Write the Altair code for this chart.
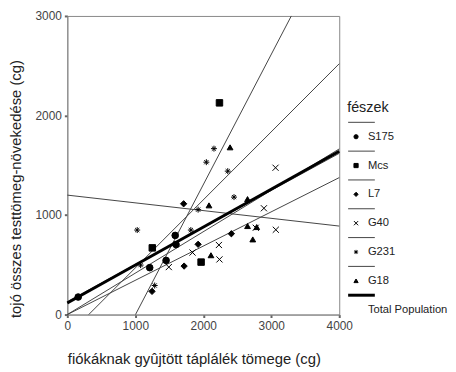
import altair as alt
import pandas as pd

FONT = "Liberation Sans"

groups = ["S175", "Mcs", "L7", "G40", "G231", "G18"]

# scatter values (x = food mass, y = egg mass gain)
s175_x = [160, 1212, 1587, 1599, 1453]
s175_y = [176, 471, 795, 703, 544]
mcs_x = [1250, 1968, 2238]
mcs_y = [670, 527, 2127]
l7_x = [1711, 2413, 1718, 1246, 1924]
l7_y = [1113, 812, 487, 233, 706]
g40_x = [3063, 2892, 3067, 2772, 2230, 2238, 1842, 1493]
g40_y = [1475, 1068, 852, 872, 699, 554, 623, 477]
g231_x = [2157, 2045, 2360, 2452, 1924, 1028, 1817, 1285, 1078]
g231_y = [1667, 1531, 1441, 1180, 1054, 849, 849, 292, 497]
g18_x = [2394, 2651, 2084, 2651, 2786, 2728, 2113]
g18_y = [1680, 1160, 1097, 889, 879, 755, 596]

# fitted lines, read as end points
line_x0 = [0, 1003, 0, 0, 315, 0]
line_y0 = [130, 0, 0, 0, 0, 1200]
line_x1 = [4000, 3295, 4000, 4000, 4000, 4000]
line_y1 = [1620, 3000, 1664, 1376, 2520, 889]
total_x = [0, 4000]
total_y = [116, 1640]

x_ticks = [0, 1000, 2000, 3000, 4000]
y_ticks = [0, 1000, 2000, 3000]

legend_title = "fészek"
total_label = "Total Population"

shape_range = [
    "circle",
    "square",
    "diamond",
    "M-1,-1L1,1M-1,1L1,-1",
    "M-1,0L1,0M0,-1L0,1M-0.7,-0.7L0.7,0.7M-0.7,0.7L0.7,-0.7",
    "triangle-up",
]
size_range = [45, 34, 45, 30, 36, 30]

# ---- tables ----
pts = []
for g, xs, ys in zip(groups, [s175_x, mcs_x, l7_x, g40_x, g231_x, g18_x],
                     [s175_y, mcs_y, l7_y, g40_y, g231_y, g18_y]):
    for a, b in zip(xs, ys):
        pts.append({"group": g, "x": a, "y": b})
pts = pd.DataFrame(pts)

lines = []
for g, a0, b0, a1, b1 in zip(groups, line_x0, line_y0, line_x1, line_y1):
    lines.append({"group": g, "x": a0, "y": b0, "o": 0})
    lines.append({"group": g, "x": a1, "y": b1, "o": 1})
lines = pd.DataFrame(lines)
total = pd.DataFrame({"x": total_x, "y": total_y})

rows = ["title"]
leg = [{"row": "title", "kind": "title", "label": legend_title, "group": ""}]
for i, g in enumerate(groups):
    rows += ["sep%d" % i, g]
    leg.append({"row": "sep%d" % i, "kind": "sep", "label": "", "group": ""})
    leg.append({"row": g, "kind": "item", "label": g, "group": g})
rows += ["sepT", "total"]
leg.append({"row": "sepT", "kind": "thick", "label": "", "group": ""})
leg.append({"row": "total", "kind": "total", "label": total_label, "group": ""})
leg = pd.DataFrame(leg)

W, H = 275, 302
xs = alt.Scale(domain=[0, 4000], nice=False, zero=False)
ys = alt.Scale(domain=[0, 3000], nice=False, zero=False)
shape_scale = alt.Scale(domain=groups, range=shape_range)
size_scale = alt.Scale(domain=groups, range=size_range)

X = alt.X("x:Q", scale=xs, axis=alt.Axis(
    values=x_ticks, format="d", labelFlush=False,
    title="fiókáknak gyûjtött táplálék tömege (cg)", titleAnchor="start",
    titleFontSize=15, titlePadding=20))
Y = alt.Y("y:Q", scale=ys, axis=alt.Axis(
    values=y_ticks, format="d", labelFlush=False,
    title="tojó összes testtömeg-növekedése (cg)",
    titleY=305, titleAlign="left", titleFontSize=15, titlePadding=12))

group_lines = alt.Chart(lines).mark_line(color="#444", strokeWidth=1).encode(
    x=X, y=Y, detail="group:N", order="o:Q")
total_line = alt.Chart(total).mark_line(color="black", strokeWidth=3).encode(x=X, y=Y)
points = alt.Chart(pts).mark_point(fill="black", stroke="black", strokeWidth=1,
                                   opacity=1, fillOpacity=1).encode(
    x=X, y=Y,
    shape=alt.Shape("group:N", scale=shape_scale, legend=None),
    size=alt.Size("group:N", scale=size_scale, legend=None),
)
main = alt.layer(group_lines, total_line, points)

LY = alt.Y("row:N", scale=alt.Scale(type="point", domain=rows, range=[93, 297], padding=0), axis=None)
lbase = alt.Chart(leg)
leg_title = lbase.transform_filter("datum.kind == 'title'").mark_text(
    align="left", baseline="middle", font=FONT, fontSize=14.5, color="#222").encode(
    x=alt.value(283), y=LY, text="label:N")
leg_sep = lbase.transform_filter("datum.kind == 'sep'").mark_rule(
    color="#444", strokeWidth=1).encode(x=alt.value(284), x2=alt.value(311), y=LY)
leg_thick = lbase.transform_filter("datum.kind == 'thick'").mark_rule(
    color="black", strokeWidth=3).encode(x=alt.value(284), x2=alt.value(311), y=LY)
leg_pts = lbase.transform_filter("datum.kind == 'item'").mark_point(
    fill="black", stroke="black", strokeWidth=1, opacity=1, fillOpacity=1, size=18).encode(
    x=alt.value(292), y=LY,
    shape=alt.Shape("group:N", scale=shape_scale, legend=None))
leg_text = lbase.transform_filter("datum.kind == 'item' || datum.kind == 'total'").mark_text(
    align="left", baseline="middle", font=FONT, fontSize=11.3, color="#222").encode(
    x=alt.value(304), y=LY, text="label:N")
legend = alt.layer(leg_title, leg_sep, leg_thick, leg_pts, leg_text)

chart = alt.layer(main, legend).resolve_scale(y="independent").properties(
    width=W, height=H,
    padding={"left": 0, "top": 0, "right": 0, "bottom": 0},
).configure_view(stroke="#888", strokeWidth=1).configure_axis(
    grid=False,
    domainColor="#888", domainWidth=1,
    tickColor="#666", tickSize=3, tickWidth=2,
    labelFont=FONT, labelFontSize=12, labelColor="#444", labelPadding=3,
    titleFont=FONT, titleFontWeight="normal", titleColor="#222",
)

chart.save("out.html", embed_options={"renderer": "svg", "actions": False})
